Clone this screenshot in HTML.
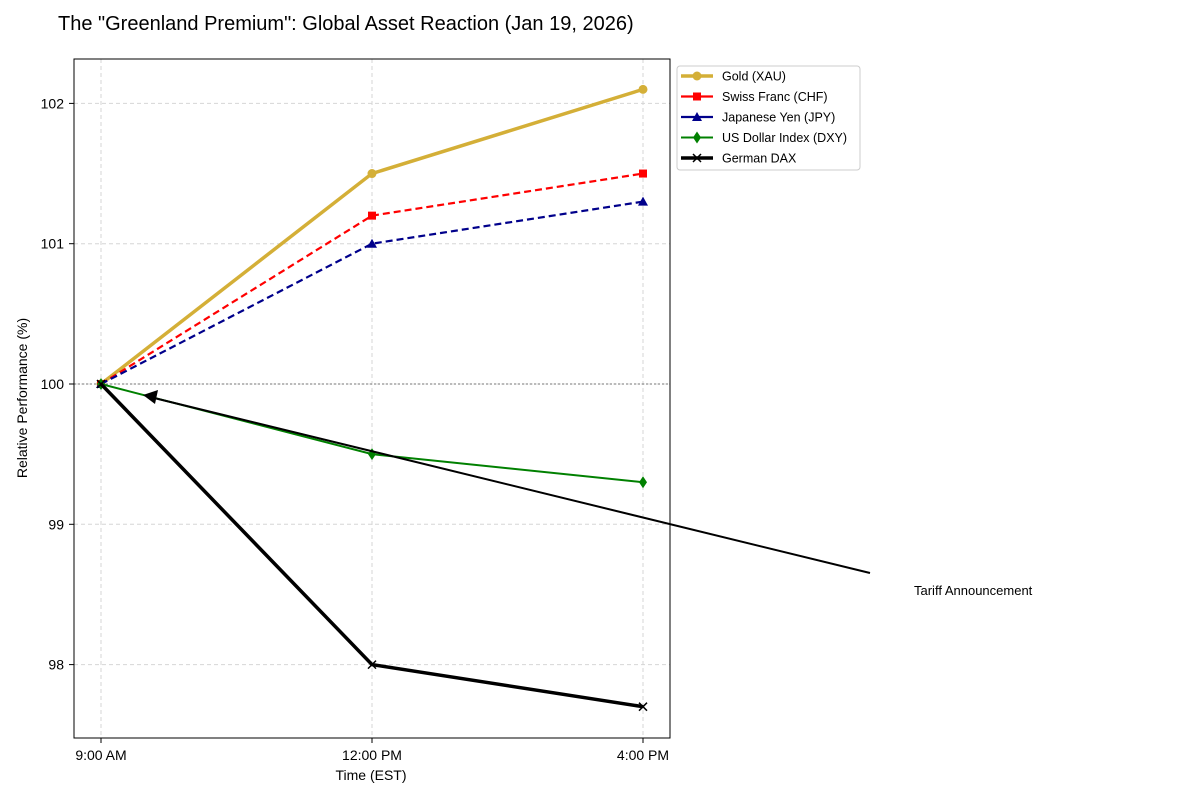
<!DOCTYPE html>
<html><head><meta charset="utf-8"><style>
body{margin:0;background:#fff;width:1200px;height:800px;overflow:hidden;font-family:"Liberation Sans",sans-serif}
svg text{font-family:"Liberation Sans",sans-serif}
</style></head><body>
<svg id="c" width="1200" height="800" xmlns="http://www.w3.org/2000/svg">
<text x="58" y="30" font-size="20" fill="#000">The "Greenland Premium": Global Asset Reaction (Jan 19, 2026)</text>
<g id="grid"></g>
<g id="series"></g>
<rect x="74" y="59" width="596" height="679" fill="none" stroke="#000" stroke-width="1"/>
<g id="axes"></g>
<text x="371" y="780" font-size="14" text-anchor="middle">Time (EST)</text>
<text transform="translate(27,398) rotate(-90)" font-size="14" text-anchor="middle">Relative Performance (%)</text>
<g>
<line x1="870" y1="573" x2="150" y2="397" stroke="#000" stroke-width="2"/>
<polygon points="143,395 158,390 155,404" fill="#000"/>
<text x="914" y="595" font-size="13">Tariff Announcement</text>
</g>
<g id="legend">
<rect x="677" y="66" width="183" height="104" rx="3" fill="#fff" stroke="#ccc"/>
</g>
</svg>
<script>
const categories=["9:00 AM","12:00 PM","4:00 PM"];
const yTicks=[98,99,100,101,102];
const gold=[100,101.5,102.1];
const chf=[100,101.2,101.5];
const jpy=[100,101.0,101.3];
const dxy=[100,99.5,99.3];
const dax=[100,98.0,97.7];
const names=["Gold (XAU)","Swiss Franc (CHF)","Japanese Yen (JPY)","US Dollar Index (DXY)","German DAX"];
const NS="http://www.w3.org/2000/svg";
const xs=i=>101+i*271;
const ys=v=>384-(v-100)*140.3;
function mk(t,a,p){const e=document.createElementNS(NS,t);for(const k in a)e.setAttribute(k,a[k]);p.appendChild(e);return e;}
const grid=document.getElementById('grid'),axes=document.getElementById('axes'),ser=document.getElementById('series'),leg=document.getElementById('legend');
categories.forEach((c,i)=>{
 const l=mk('line',{x1:xs(i),x2:xs(i),y1:59,y2:738,stroke:'#d6d6d6','stroke-dasharray':'4,3'},grid);
 
 
 mk('line',{x1:xs(i),x2:xs(i),y1:738,y2:743,stroke:'#000'},axes);
 const t=mk('text',{x:xs(i),y:760,'font-size':14,'text-anchor':'middle'},axes);t.textContent=c;
 
 
});
yTicks.forEach(v=>{
 const l=mk('line',{x1:74,x2:670,y1:ys(v),y2:ys(v),stroke:'#d6d6d6','stroke-dasharray':'4,3'},grid);
 
 
 mk('line',{x1:69,x2:74,y1:ys(v),y2:ys(v),stroke:'#000'},axes);
 const t=mk('text',{x:64,y:ys(v)+5,'font-size':14,'text-anchor':'end'},axes);t.textContent=v;
 
 
});
const base=mk('line',{x1:74,x2:670,y1:ys(100),y2:ys(100),stroke:'#777','stroke-dasharray':'2,2'},grid);


const specs=[[gold,'#d4af37',3.5,'','circle'],[chf,'#f00',2.2,'7,4','square'],[jpy,'#00008b',2.2,'7,4','tri'],[dxy,'#008000',2,'','diamond'],[dax,'#000',3.5,'','x']];
function marker(kind,x,y,col,g){
 if(kind=='circle')mk('circle',{cx:x,cy:y,r:4.5,fill:col},g);
 else if(kind=='square')mk('rect',{x:x-4,y:y-4,width:8,height:8,fill:col},g);
 else if(kind=='tri')mk('polygon',{points:`${x},${y-5} ${x-5},${y+4} ${x+5},${y+4}`,fill:col},g);
 else if(kind=='diamond')mk('polygon',{points:`${x},${y-6} ${x-4},${y} ${x},${y+6} ${x+4},${y}`,fill:col},g);
 else{mk('path',{d:`M${x-4},${y-4}L${x+4},${y+4}M${x-4},${y+4}L${x+4},${y-4}`,stroke:col,'stroke-width':1.5},g);}
}
specs.forEach((s,k)=>{
 const g=mk('g',{},ser);
 
 
 mk('polyline',{points:s[0].map((v,i)=>xs(i)+','+ys(v)).join(' '),fill:'none',stroke:s[1],'stroke-width':s[2],'stroke-dasharray':s[3]},g);
 s[0].forEach((v,i)=>marker(s[4],xs(i),ys(v),s[1],g));
 const y=76+k*20.5;
 const lg=mk('g',{},leg);
 
 
 mk('line',{x1:681,x2:713,y1:y,y2:y,stroke:s[1],'stroke-width':s[2]},lg);
 marker(s[4],697,y,s[1],lg);
 const t=mk('text',{x:722,y:y+4.5,'font-size':12.5},lg);t.textContent=names[k];
});
</script>
</body></html>
